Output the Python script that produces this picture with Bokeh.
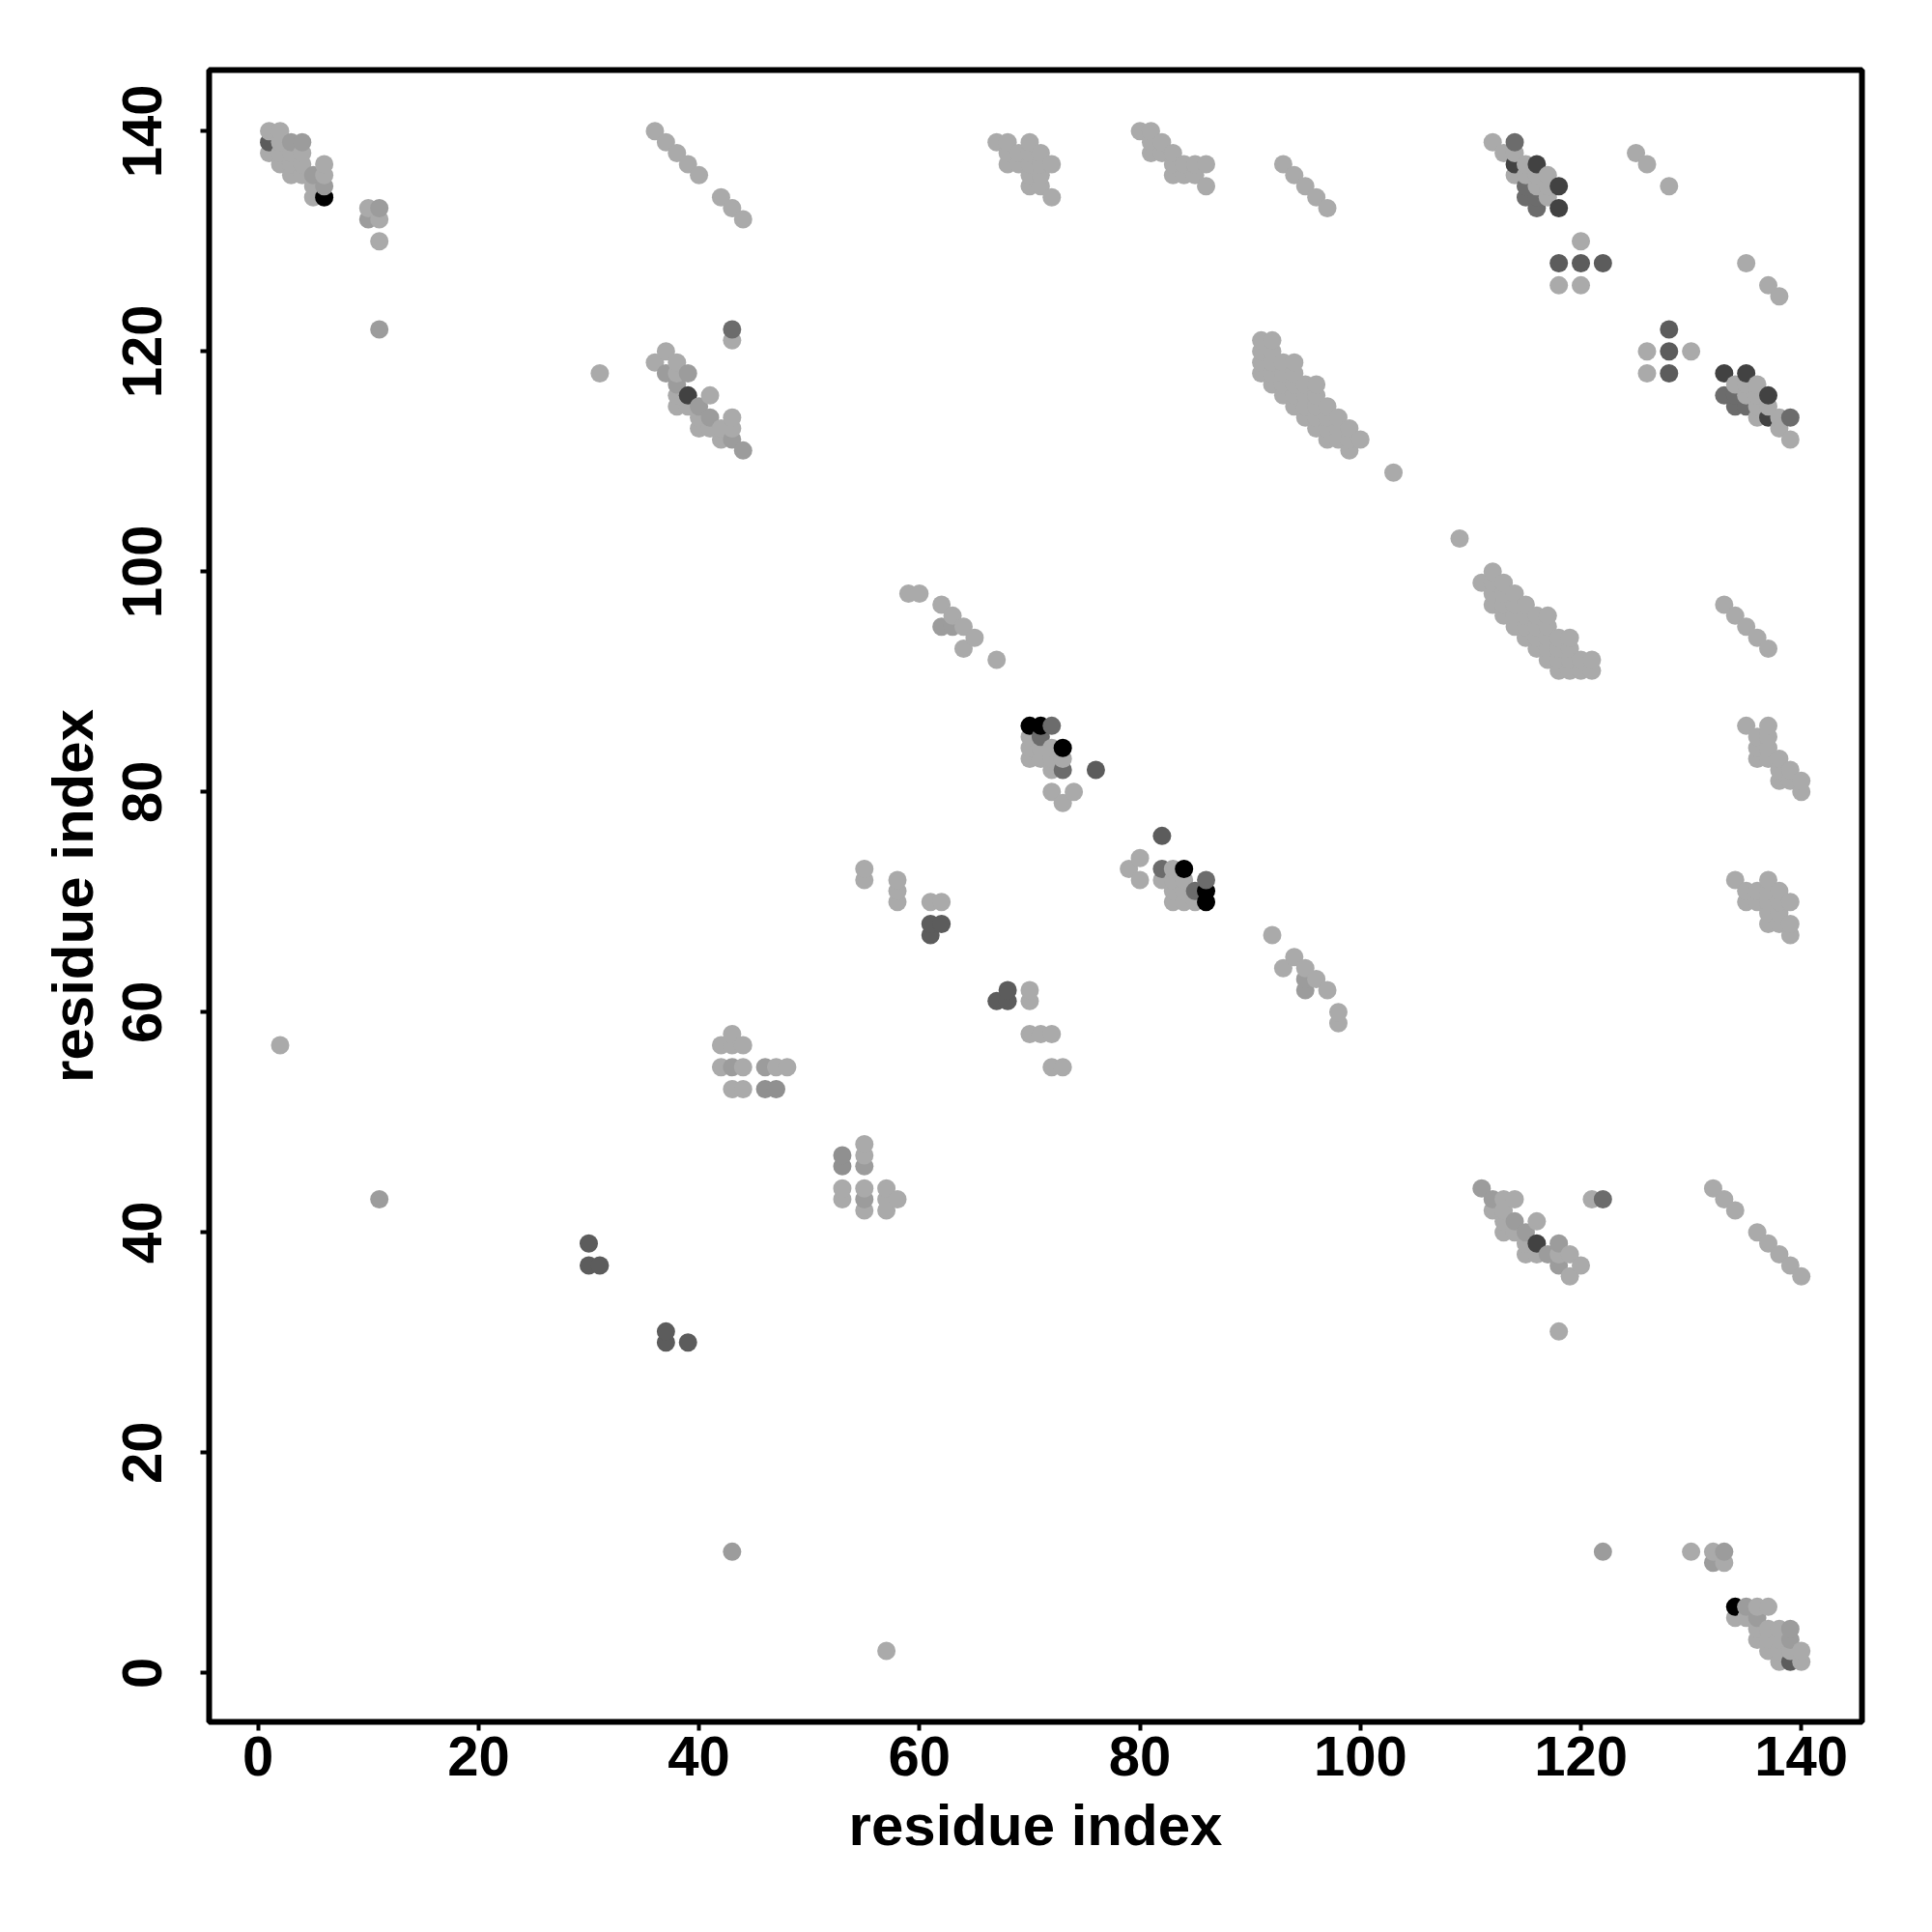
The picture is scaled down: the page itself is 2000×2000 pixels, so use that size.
from bokeh.plotting import figure
from bokeh.models import FixedTicker, Range1d, ColumnDataSource
from bokeh.embed import file_html
from bokeh.resources import INLINE

tick_values = [0, 20, 40, 60, 80, 100, 120, 140]
x_title = "residue index"
y_title = "residue index"

contacts_black = [(6,134),(70,86),(71,86),(73,84)]
contacts_dark = [(114,137),(116,137),(118,135),(118,133),(39,116)]
contacts_darkmid = [(1,139),(76,82),(61,67),(61,68),(62,68),(30,37),(30,39),(31,37),
                    (37,30),(118,128),(120,128),(122,128)]
contacts_mid = [(114,139),(115,134),(116,134),(116,133),(115,135),(72,86),(71,85),(73,82),(43,122)]
contacts_midlight = [(53,46),(53,47)]
contacts_soft = [(6,135),(5,136),(3,139),(4,139),(10,132),(11,133),(11,122),(11,43),
                 (37,118),(39,118),(38,117),(40,115),(41,114),(43,112),(44,111),
                 (62,95),(63,95),(55,46),(55,43)]
contacts_light = [
    (1,140),(2,140),(1,138),(2,139),(2,138),(2,137),(3,138),(3,137),(3,136),
    (4,138),(4,137),(4,136),(5,135),(5,134),(6,137),(6,136),
    (10,133),(11,132),(11,130),(2,57),(31,118),
    (36,140),(37,139),(38,138),(39,137),(40,136),(42,134),(43,133),(44,132),
    (67,139),(68,139),(70,139),(68,138),(69,138),(70,138),(71,138),
    (68,137),(69,137),(70,137),(71,137),(72,137),(70,136),(71,136),(70,135),(71,135),(72,134),
    (80,140),(81,140),(81,139),(82,139),(81,138),(82,138),(83,138),(83,137),(84,137),(85,137),
    (83,136),(84,136),(85,136),(86,137),(86,135),
    (93,137),(94,136),(95,135),(96,134),(97,133),
    (112,139),(113,138),(114,138),(114,136),(115,137),(115,136),(116,136),(116,135),
    (117,136),(117,135),(117,134),
    (125,138),(126,137),(128,135),(120,130),(118,126),(120,126),(135,128),(137,126),(138,125),
    (37,120),(36,119),(38,119),(38,118),(38,116),(38,115),(39,115),(41,116),(40,114),(40,113),
    (41,113),(42,113),(42,112),(43,114),(43,113),(43,121),
    (59,98),(60,98),(62,97),(63,96),(64,95),(64,93),(65,94),(67,92),(103,109),
    (91,121),(91,120),(91,119),(91,118),(92,121),(92,120),(92,119),(92,118),(92,117),
    (93,119),(93,118),(93,117),(93,116),(94,119),(94,118),(94,117),(94,116),(94,115),
    (95,117),(95,116),(95,115),(95,114),(96,117),(96,116),(96,115),(96,114),(96,113),
    (97,115),(97,114),(97,113),(97,112),(98,114),(98,113),(98,112),(99,113),(99,112),(99,111),(100,112),
    (133,97),(134,96),(135,95),(136,94),(137,93),
    (70,85),(70,84),(71,84),(72,84),(70,83),(71,83),(72,83),(73,83),(72,82),(72,80),(74,80),(73,79),
    (55,73),(55,72),(58,72),(58,71),(58,70),(61,70),(62,70),(70,58),(71,58),(72,58),(72,55),(73,55),
    (92,67),(93,64),(94,65),(95,64),(96,63),(97,62),(98,60),(98,59),
    (43,58),(42,57),(43,57),(44,57),(42,55),(43,55),(44,55),(46,55),(47,55),(48,55),
    (43,53),(44,53),(55,48),(55,47),(55,44),(55,42),(53,44),(53,43),
    (57,44),(57,43),(57,42),(58,43),
]
groups = [
    ("#000000", contacts_black),
    ("#424242", contacts_dark),
    ("#5c5c5c", contacts_darkmid),
    ("#6c6c6c", contacts_mid),
    ("#909090", contacts_midlight),
    ("#9c9c9c", contacts_soft),
    ("#aaaaaa", contacts_light),
]

points = {}
for color, pairs in groups:
    for a, b in pairs:
        points.setdefault((a, b), color)
        points.setdefault((b, a), color)
ordered = sorted(points)
source = ColumnDataSource(dict(
    x=[k[0] for k in ordered],
    y=[k[1] for k in ordered],
    c=[points[k] for k in ordered],
))

LEFT, TOP, W, H = 216, 72, 1711, 1710
p = figure(frame_width=W, frame_height=H, output_backend="svg", toolbar_location=None,
           x_range=Range1d(-4.44, 145.5), y_range=Range1d(-4.45, 145.55),
           min_border_left=LEFT, min_border_top=TOP, min_border_right=50, min_border_bottom=190,
           background_fill_color="white", border_fill_color="white")
p.grid.visible = False
p.outline_line_color = "black"
p.outline_line_width = 6
p.scatter("x", "y", source=source, size=19, fill_color="c", line_color=None, marker="circle")

for ax, title in ((p.xaxis[0], x_title), (p.yaxis[0], y_title)):
    ax.ticker = FixedTicker(ticks=tick_values)
    ax.minor_tick_line_color = None
    ax.axis_line_color = None
    ax.major_tick_line_color = "black"
    ax.major_tick_line_width = 4
    ax.major_tick_out = 9
    ax.major_tick_in = 0
    ax.major_label_text_font = "Liberation Sans"
    ax.major_label_text_font_style = "bold"
    ax.major_label_text_font_size = "58px"
    ax.major_label_text_color = "black"
    ax.axis_label = title
    ax.axis_label_text_font = "Liberation Sans"
    ax.axis_label_text_font_style = "bold"
    ax.axis_label_text_font_size = "60px"
    ax.axis_label_text_color = "black"
p.xaxis[0].major_label_standoff = 6
p.xaxis[0].axis_label_standoff = 15
p.yaxis[0].major_label_orientation = "vertical"
p.yaxis[0].major_label_standoff = 40
p.yaxis[0].axis_label_standoff = 16

open("out.html", "w").write(file_html(p, INLINE))
